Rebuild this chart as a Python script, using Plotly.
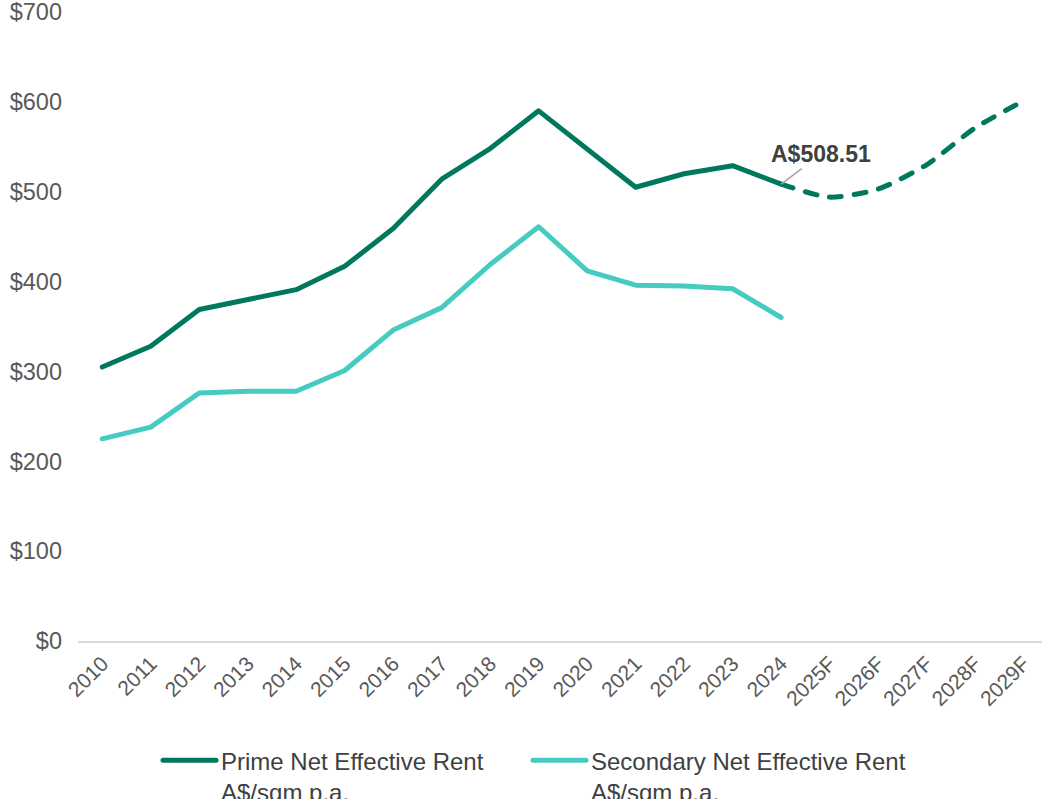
import plotly.graph_objects as go

years = ["2010", "2011", "2012", "2013", "2014", "2015", "2016", "2017", "2018", "2019",
         "2020", "2021", "2022", "2023", "2024", "2025F", "2026F", "2027F", "2028F", "2029F"]

prime_years = years[:15]
prime_values = [305, 328, 369, 380, 391, 417, 459, 514, 548, 590, 548, 505, 520, 529, 508.51]

forecast_years = years[14:]
forecast_values = [508.51, 494, 503, 530, 571, 601]

secondary_years = years[:15]
secondary_values = [225, 238, 276, 278, 278, 301, 346, 371, 419, 461, 412, 396, 395, 392, 360]

y_ticks = [0, 100, 200, 300, 400, 500, 600, 700]

PRIME = "#00785E"
SECOND = "#45CBC1"
FONT = "Liberation Sans, Arial, sans-serif"

fig = go.Figure()
fig.add_trace(go.Scatter(x=prime_years, y=prime_values, mode="lines",
                         name="Prime Net Effective Rent<br>A$/sqm p.a.", legend="legend",
                         line=dict(color=PRIME, width=5)))
fig.add_trace(go.Scatter(x=secondary_years, y=secondary_values, mode="lines",
                         name="Secondary Net Effective Rent<br>A$/sqm p.a.", legend="legend2",
                         line=dict(color=SECOND, width=5)))
fig.add_trace(go.Scatter(x=forecast_years, y=forecast_values, mode="lines",
                         showlegend=False,
                         line=dict(color=PRIME, width=5, dash="12px,13px", shape="spline", smoothing=0.7)))

fig.add_annotation(x=years.index("2024"), y=prime_values[-1], text="<b>A$508.51</b>",
                   showarrow=True, arrowhead=0, arrowwidth=1.5, arrowcolor="#A6A6A6",
                   ax=40, ay=-30, font=dict(size=23, color="#404040", family=FONT))

legend_style = dict(orientation="h", xanchor="left", y=-0.1545, yanchor="top",
                    valign="top", font=dict(size=24, color="#404040"), itemwidth=53,
                    bgcolor="rgba(0,0,0,0)")

fig.update_layout(
    width=1042, height=799,
    margin=dict(l=78, r=0, t=12, b=158, autoexpand=False),
    paper_bgcolor="white", plot_bgcolor="white",
    font=dict(family=FONT, size=24, color="#595959"),
    showlegend=True,
    legend=dict(x=0.083, **legend_style),
    legend2=dict(x=0.4668, **legend_style),
)
fig.update_xaxes(type="category", categoryorder="array", categoryarray=years,
                 range=[-0.5, 19.38], showgrid=False, zeroline=False, automargin=False,
                 showline=True, linecolor="#D9D9D9", linewidth=2,
                 tickangle=-45, ticks="", tickfont=dict(size=21, color="#595959"))
fig.update_yaxes(range=[0, 700], tickvals=y_ticks, ticktext=[f"${v}" for v in y_ticks],
                 showgrid=False, zeroline=False, showline=False, ticks="", automargin=False,
                 ticklabeloverflow="allow",
                 ticklabelstandoff=15, tickfont=dict(size=23.5, color="#595959"))

# remove the browser's default 8px body margin so the figure sits at the window origin,
# and give the series lines round caps/joins as in the reference
post = (
    "document.body.style.margin='0';"
    "document.querySelectorAll('path.js-line').forEach(function(p){"
    "p.style.strokeLinecap='round';p.style.strokeLinejoin='round';});"
)
fig.write_html("out.html", post_script=post, config={"displayModeBar": False})
